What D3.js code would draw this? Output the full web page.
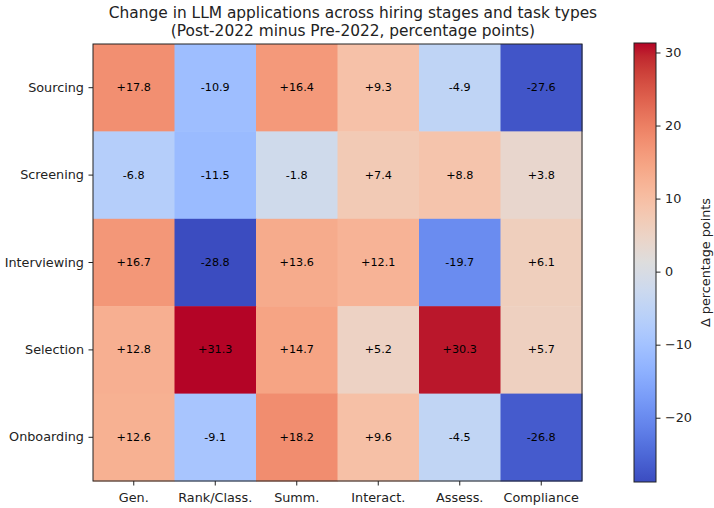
<!DOCTYPE html>
<html><head><meta charset="utf-8">
<script src="https://cdn.jsdelivr.net/npm/d3@7"></script>
<style>body{margin:0;background:#fff;} text{font-family:"DejaVu Sans",sans-serif;}</style>
</head><body><svg id="c" width="714" height="508"></svg>
<script>
const stages = ["Sourcing","Screening","Interviewing","Selection","Onboarding"];
const tasks = ["Gen.","Rank/Class.","Summ.","Interact.","Assess.","Compliance"];
const sourcing = [17.8,-10.9,16.4,9.3,-4.9,-27.6];
const screening = [-6.8,-11.5,-1.8,7.4,8.8,3.8];
const interviewing = [16.7,-28.8,13.6,12.1,-19.7,6.1];
const selection = [12.8,31.3,14.7,5.2,30.3,5.7];
const onboarding = [12.6,-9.1,18.2,9.6,-4.5,-26.8];
const colorbarTicks = [-20,-10,0,10,20,30];
const titleLines = ["Change in LLM applications across hiring stages and task types","(Post-2022 minus Pre-2022, percentage points)"];
const cbLabel = "Δ percentage points";

const values = [sourcing, screening, interviewing, selection, onboarding];
const cells = [];
values.forEach((row,i)=>row.forEach((v,j)=>cells.push({stage:stages[i],task:tasks[j],v})));
const all = values.flat();
const vmin = d3.min(all), vmax = d3.max(all);

const cw = [[59,76,192],[68,90,204],[77,104,215],[87,117,225],[98,130,234],[108,142,241],[119,154,247],[130,165,251],[141,176,254],[152,185,255],[163,194,255],[174,201,253],[184,208,249],[194,213,244],[204,217,238],[213,219,230],[221,221,221],[229,216,209],[236,211,197],[241,204,184],[245,196,172],[247,187,159],[247,177,147],[246,166,134],[244,154,123],[241,141,111],[236,127,99],[229,112,89],[222,96,77],[213,80,67],[203,62,56],[192,40,47],[180,4,38]];
const cmap = d3.scaleLinear().domain(cw.map((d,i)=>i/(cw.length-1))).range(cw.map(c=>`rgb(${c})`)).interpolate(d3.interpolateRgb).clamp(true);
const norm = d3.scaleLinear().domain([vmin,vmax]).range([0,1]);
const color = v=>cmap(norm(v));

const svg = d3.select("#c");
const L=93,R=582,T=44,B=481;
const FS=12.8;
const x = d3.scaleBand().domain(tasks).range([L,R]);
const y = d3.scaleBand().domain(stages).range([T,B]);

svg.selectAll("rect.cell").data(cells).enter().append("rect")
  .attr("x",d=>x(d.task)).attr("y",d=>y(d.stage))
  .attr("width",x.bandwidth()+0.5).attr("height",y.bandwidth()+0.5)
  .attr("fill",d=>color(d.v));
svg.selectAll("text.val").data(cells).enter().append("text")
  .attr("x",d=>x(d.task)+x.bandwidth()/2).attr("y",d=>y(d.stage)+y.bandwidth()/2)
  .attr("text-anchor","middle").attr("dominant-baseline","central")
  .attr("font-size",11.2).attr("fill","#000")
  .text(d=>(d.v>0?"+":"")+d.v.toFixed(1));
svg.append("rect").attr("x",L).attr("y",T).attr("width",R-L).attr("height",B-T)
  .attr("fill","none").attr("stroke","#222").attr("stroke-width",1);

const xa = svg.append("g").attr("transform",`translate(0,${B})`).call(d3.axisBottom(x).tickSizeOuter(0).tickSize(4.5).tickPadding(4.5));
const ya = svg.append("g").attr("transform",`translate(${L},0)`).call(d3.axisLeft(y).tickSizeOuter(0).tickSize(4.5).tickPadding(4.5));
[xa,ya].forEach(a=>{a.select(".domain").remove();a.selectAll("text").attr("font-size",FS).attr("fill","#222").attr("font-family","DejaVu Sans");a.selectAll("line").attr("stroke","#222");});
xa.selectAll("text").attr("dy","0.92em");

// colorbar
const cbL=634,cbW=22,cbT=43,cbB=482;
const cy = d3.scaleLinear().domain([vmin,vmax]).range([cbB,cbT]);
const defs = svg.append("defs");
const grad = defs.append("linearGradient").attr("id","g").attr("x1",0).attr("y1",1).attr("x2",0).attr("y2",0);
cw.forEach((c,i)=>grad.append("stop").attr("offset",i/(cw.length-1)).attr("stop-color",`rgb(${c})`));
svg.append("rect").attr("x",cbL).attr("y",cbT).attr("width",cbW).attr("height",cbB-cbT).attr("fill","url(#g)").attr("stroke","#222").attr("stroke-width",1);
const ca = svg.append("g").attr("transform",`translate(${cbL+cbW},0)`).call(d3.axisRight(cy).tickValues(colorbarTicks).tickFormat(d=>d<0?"\u2212"+Math.abs(d):d).tickSize(4.5).tickPadding(4.5).tickSizeOuter(0));
ca.select(".domain").remove();
ca.selectAll("text").attr("font-size",FS).attr("fill","#222").attr("font-family","DejaVu Sans");
ca.selectAll("line").attr("stroke","#222");
svg.append("text").attr("transform",`translate(710,${(cbT+cbB)/2}) rotate(-90)`).attr("text-anchor","middle")
  .attr("font-size",FS).attr("fill","#222").text(cbLabel);

svg.selectAll("text.title").data(titleLines).enter().append("text")
  .attr("x",353).attr("y",(d,i)=>18+i*18).attr("text-anchor","middle")
  .attr("font-size",15.4).attr("fill","#222").text(d=>d);
</script></body></html>
